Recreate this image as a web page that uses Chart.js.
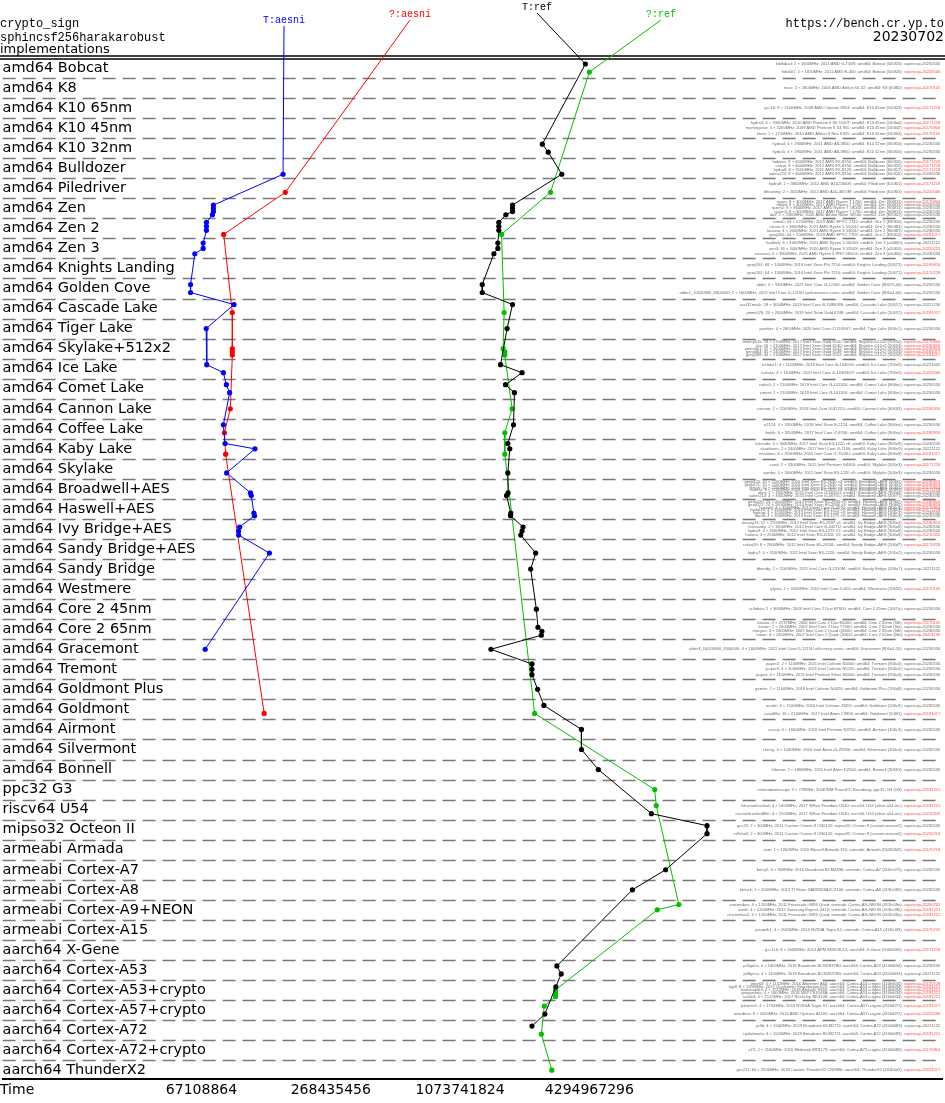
<!DOCTYPE html>
<html>
<head>
<meta charset="utf-8">
<script src="https://cdn.jsdelivr.net/npm/chart.js@4.4.1/dist/chart.umd.min.js"></script>
<style>
  html, body { margin: 0; padding: 0; background: #fff; }
  #wrap { width: 945px; height: 1103px; }
</style>
</head>
<body>
<div id="wrap"><canvas id="benchChart" width="945" height="1103"></canvas></div>
<script>
// ---- data ----
const categories = [
  "amd64 Bobcat", "amd64 K8", "amd64 K10 65nm", "amd64 K10 45nm", "amd64 K10 32nm",
  "amd64 Bulldozer", "amd64 Piledriver", "amd64 Zen", "amd64 Zen 2", "amd64 Zen 3",
  "amd64 Knights Landing", "amd64 Golden Cove", "amd64 Cascade Lake", "amd64 Tiger Lake",
  "amd64 Skylake+512x2", "amd64 Ice Lake", "amd64 Comet Lake", "amd64 Cannon Lake",
  "amd64 Coffee Lake", "amd64 Kaby Lake", "amd64 Skylake", "amd64 Broadwell+AES",
  "amd64 Haswell+AES", "amd64 Ivy Bridge+AES", "amd64 Sandy Bridge+AES", "amd64 Sandy Bridge",
  "amd64 Westmere", "amd64 Core 2 45nm", "amd64 Core 2 65nm", "amd64 Gracemont",
  "amd64 Tremont", "amd64 Goldmont Plus", "amd64 Goldmont", "amd64 Airmont",
  "amd64 Silvermont", "amd64 Bonnell", "ppc32 G3", "riscv64 U54", "mipso32 Octeon II",
  "armeabi Armada", "armeabi Cortex-A7", "armeabi Cortex-A8", "armeabi Cortex-A9+NEON",
  "armeabi Cortex-A15", "aarch64 X-Gene", "aarch64 Cortex-A53", "aarch64 Cortex-A53+crypto",
  "aarch64 Cortex-A57+crypto", "aarch64 Cortex-A72", "aarch64 Cortex-A72+crypto",
  "aarch64 ThunderX2"
];

// machines measured in each category (same order as categories)
const hosts = [
  ["bblhdcat", "hda601"], ["nucc"], ["gcc16"], ["hydra3", "morningstar", "khan"],
  ["hydra4", "hydra5"], ["hobbes", "calvin", "hydra6", "sabre224"], ["hydra8", "bltraining"],
  ["ryzen", "rabbit", "ryzen2", "ryzen3", "dali"], ["rome0", "renoir", "luciana", "genji206"],
  ["hadlock", "zen3", "cassava"], ["genji261", "genji161"], ["alder", "alder2_10020960_6600000"],
  ["ascl32mask", "pmmi076"], ["pamber"], ["manny016", "skx", "pmmi001", "genji464", "genji288"],
  ["icelake1", "icelake"], ["cubic0", "comet"], ["cannon"], ["e2124", "bottle"],
  ["lakeside", "skaelaxes", "rmslakes"], ["sand", "samba"],
  ["genji420", "genji421", "ferrari", "boilers", "ebro", "saber214"],
  ["genji220", "genji222", "haswell", "hydra10", "hiphop", "titan0"],
  ["manny13", "hanasaky", "hydra9", "hatana"], ["rokzo26", "hydra7"], ["bbandy"], ["glyma"],
  ["scifidata"], ["katana", "tristan", "morgan", "latour"], ["alder3_10020960_3300000"],
  ["jasper2", "jasper3", "jasper"], ["gemini"], ["ucube", "avoid8bi"], ["nucso"], ["cherry"],
  ["h4atom"], ["nintendowiiusage"], ["hifiveunleashed", "riscvunleashed800"],
  ["gcc23", "er8shell"], ["sam"], ["berry2"], ["bblack"], ["cmcnmbus", "arndt", "cmcnmbus2"],
  ["jetsontk1"], ["gcc116"], ["pi3aplus", "pi3bplus"],
  ["pine64", "tap8", "bananapi64", "gorgonzola", "rock64"], ["jetsontx1", "overdrive"],
  ["pi4b", "rpi4abmeta"], ["a72"], ["gcc211"]
];

const hostInfo = {
  bblhdcat: "2 × 1600MHz; 2011 AMD G-T56N; amd64; Bobcat (500f20)",
  hda601: "2 × 1650MHz; 2011 AMD E-450; amd64; Bobcat (500f20)",
  nucc: "2 × 2600MHz; 2006 AMD Athlon 64 X2; amd64; K8 (60f82)",
  gcc16: "8 × 2100MHz; 2008 AMD Opteron 8354; amd64; K10 65nm (100f23)",
  hydra3: "6 × 3300MHz; 2010 AMD Phenom II X6 1100T; amd64; K10 45nm (100fa0)",
  morningstar: "4 × 3200MHz; 2009 AMD Phenom II X4 955; amd64; K10 45nm (100f42)",
  khan: "1 × 1700MHz; 2010 AMD Athlon II Neo K325; amd64; K10 45nm (100f63)",
  hydra4: "4 × 2900MHz; 2011 AMD A8-3850; amd64; K10 32nm (300f10)",
  hydra5: "4 × 2900MHz; 2011 AMD A8-3850; amd64; K10 32nm (300f10)",
  hobbes: "8 × 4000MHz; 2012 AMD FX-8350; amd64; Bulldozer (600f20)",
  calvin: "8 × 4000MHz; 2012 AMD FX-8350; amd64; Bulldozer (600f20)",
  hydra6: "8 × 3100MHz; 2011 AMD FX-8120; amd64; Bulldozer (600f12)",
  sabre224: "8 × 4000MHz; 2012 AMD FX-8350; amd64; Bulldozer (600f20)",
  hydra8: "2 × 3800MHz; 2012 AMD A10-5800K; amd64; Piledriver (610f01)",
  bltraining: "2 × 2000MHz; 2012 AMD A10-4655M; amd64; Piledriver (610f01)",
  ryzen: "8 × 3000MHz; 2017 AMD Ryzen 7 1700; amd64; Zen (800f11)",
  rabbit: "8 × 3000MHz; 2017 AMD Ryzen 7 1700; amd64; Zen (800f11)",
  ryzen2: "8 × 3600MHz; 2017 AMD Ryzen 7 1800X; amd64; Zen (800f11)",
  ryzen3: "8 × 3000MHz; 2017 AMD Ryzen 7 1700; amd64; Zen (800f11)",
  dali: "2 × 2300MHz; 2020 AMD Athlon Silver 3050e; amd64; Zen (820f01)",
  rome0: "64 × 2250MHz; 2019 AMD EPYC 7742; amd64; Zen 2 (830f10)",
  renoir: "6 × 3800MHz; 2021 AMD Ryzen 5 5500U; amd64; Zen 2 (860f81)",
  luciana: "4 × 2600MHz; 2021 AMD Ryzen 3 5300U; amd64; Zen 2 (860f81)",
  genji206: "64 × 2000MHz; 2019 AMD EPYC 7702; amd64; Zen 2 (830f10)",
  hadlock: "6 × 4062MHz; 2021 AMD Ryzen 5 5600G; amd64; Zen 3 (a50f00)",
  zen3: "16 × 3400MHz; 2020 AMD Ryzen 9 5950X; amd64; Zen 3 (a20f10)",
  cassava: "6 × 3900MHz; 2021 AMD Ryzen 5 PRO 5650G; amd64; Zen 3 (a50f00)",
  genji261: "68 × 1400MHz; 2016 Intel Xeon Phi 7250; amd64; Knights Landing (50671)",
  genji161: "64 × 1300MHz; 2016 Intel Xeon Phi 7210; amd64; Knights Landing (50671)",
  alder: "4 × 3300MHz; 2022 Intel Core i3-12100; amd64; Golden Cove (90675-00)",
  alder2_10020960_6600000: "2 × 1600MHz; 2022 Intel Core i5-1215U performance cores; amd64; Golden Cove (906a4-00)",
  ascl32mask: "18 × 3000MHz; 2019 Intel Core i9-10980XE; amd64; Cascade Lake (50657)",
  pmmi076: "20 × 2500MHz; 2019 Intel Xeon Gold 6248; amd64; Cascade Lake (50657)",
  pamber: "4 × 2800MHz; 2020 Intel Core i7-1165G7; amd64; Tiger Lake (806c1)",
  manny016: "18 × 2700MHz; 2017 Intel Xeon Gold 6150; amd64; Skylake+512x2 (50654)",
  skx: "16 × 2100MHz; 2017 Intel Xeon Gold 6130; amd64; Skylake+512x2 (50654)",
  pmmi001: "32 × 2600MHz; 2017 Intel Xeon Gold 6142; amd64; Skylake+512x2 (50654)",
  genji464: "40 × 2400MHz; 2017 Intel Xeon Gold 6148; amd64; Skylake+512x2 (50654)",
  genji288: "44 × 2100MHz; 2017 Intel Xeon Gold 6152; amd64; Skylake+512x2 (50654)",
  icelake1: "4 × 1000MHz; 2019 Intel Core i5-1035G1; amd64; Ice Lake (706e5)",
  icelake: "4 × 1100MHz; 2020 Intel Core i5-1030NG7; amd64; Ice Lake (706e5)",
  cubic0: "2 × 2100MHz; 2019 Intel Core i3-10110U; amd64; Comet Lake (806ec)",
  comet: "2 × 2100MHz; 2019 Intel Core i3-10110U; amd64; Comet Lake (806ec)",
  cannon: "2 × 2200MHz; 2018 Intel Core i3-8121U; amd64; Cannon Lake (60663)",
  e2124: "4 × 3300MHz; 2018 Intel Xeon E-2124; amd64; Coffee Lake (906ea)",
  bottle: "6 × 3200MHz; 2017 Intel Core i7-8700; amd64; Coffee Lake (906ea)",
  lakeside: "4 × 3000MHz; 2017 Intel Xeon E3-1220 v6; amd64; Kaby Lake (906e9)",
  skaelaxes: "2 × 2400MHz; 2017 Intel Core i3-7100; amd64; Kaby Lake (906e9)",
  rmslakes: "4 × 3100MHz; 2016 Intel Core i7-7500U; amd64; Kaby Lake (806e9)",
  sand: "2 × 3300MHz; 2015 Intel Pentium G4400; amd64; Skylake (506e3)",
  samba: "4 × 3000MHz; 2015 Intel Xeon E3-1220 v5; amd64; Skylake (506e3)",
  genji420: "20 × 2200MHz; 2016 Intel Xeon E5-2630 v4; amd64; Broadwell+AES (406f1)",
  genji421: "20 × 2200MHz; 2016 Intel Xeon E5-2630 v4; amd64; Broadwell+AES (406f1)",
  ferrari: "10 × 2200MHz; 2016 Intel Xeon E5-2630 v4; amd64; Broadwell+AES (406f1)",
  boilers: "8 × 2100MHz; 2016 Intel Xeon E5-2620 v4; amd64; Broadwell+AES (406f1)",
  ebro: "2 × 1900MHz; 2015 Intel Core i3-5020U; amd64; Broadwell+AES (306d4)",
  saber214: "4 × 3300MHz; 2015 Intel Core i5-5675C; amd64; Broadwell+AES (40671)",
  genji220: "24 × 2600MHz; 2014 Intel Xeon E5-2690 v3; amd64; Haswell+AES (306f2)",
  genji222: "24 × 2600MHz; 2014 Intel Xeon E5-2690 v3; amd64; Haswell+AES (306f2)",
  haswell: "4 × 3200MHz; 2013 Intel Core i5-4570; amd64; Haswell+AES (306c3)",
  hydra10: "4 × 3500MHz; 2013 Intel Xeon E3-1275 v3; amd64; Haswell+AES (306c3)",
  hiphop: "4 × 3100MHz; 2013 Intel Xeon E3-1220 v3; amd64; Haswell+AES (306c3)",
  titan0: "4 × 3500MHz; 2013 Intel Xeon E3-1275 v3; amd64; Haswell+AES (306c3)",
  manny13: "12 × 2700MHz; 2013 Intel Xeon E5-2697 v2; amd64; Ivy Bridge+AES (306e4)",
  hanasaky: "2 × 1800MHz; 2012 Intel Core i5-3427U; amd64; Ivy Bridge+AES (306a9)",
  hydra9: "4 × 3500MHz; 2012 Intel Xeon E3-1275 V2; amd64; Ivy Bridge+AES (306a9)",
  hatana: "4 × 2500MHz; 2012 Intel Xeon E3-1265L V2; amd64; Ivy Bridge+AES (306a9)",
  rokzo26: "8 × 2600MHz; 2012 Intel Xeon E5-2650L; amd64; Sandy Bridge+AES (206d7)",
  hydra7: "4 × 3100MHz; 2011 Intel Xeon E3-1220; amd64; Sandy Bridge+AES (206a7)",
  bbandy: "2 × 2100MHz; 2011 Intel Core i3-2310M; amd64; Sandy Bridge (206a7)",
  glyma: "2 × 3200MHz; 2010 Intel Core i5-650; amd64; Westmere (20652)",
  scifidata: "2 × 3066MHz; 2009 Intel Core 2 Duo E7600; amd64; Core 2 45nm (1067a)",
  katana: "2 × 2137MHz; 2006 Intel Core 2 Duo E6400; amd64; Core 2 65nm (6f6)",
  tristan: "2 × 2000MHz; 2007 Intel Core 2 Duo T7300; amd64; Core 2 65nm (6fa)",
  morgan: "4 × 2400MHz; 2007 Intel Core 2 Quad Q6600; amd64; Core 2 65nm (6fb)",
  latour: "4 × 2400MHz; 2007 Intel Core 2 Quad Q6600; amd64; Core 2 65nm (6fb)",
  alder3_10020960_3300000: "4 × 1600MHz; 2022 Intel Core i5-1215U efficiency cores; amd64; Gracemont (906a4-20)",
  jasper2: "2 × 1100MHz; 2021 Intel Celeron N4500; amd64; Tremont (906c0)",
  jasper3: "4 × 2000MHz; 2021 Intel Celeron N5105; amd64; Tremont (906c0)",
  jasper: "4 × 1100MHz; 2021 Intel Pentium Silver N6000; amd64; Tremont (906c0)",
  gemini: "2 × 1100MHz; 2019 Intel Celeron N4020; amd64; Goldmont Plus (706a8)",
  ucube: "4 × 1500MHz; 2016 Intel Celeron J3455; amd64; Goldmont (506c9)",
  avoid8bi: "16 × 2100MHz; 2017 Intel Atom C3958; amd64; Goldmont (506f1)",
  nucso: "4 × 1600MHz; 2016 Intel Pentium N3700; amd64; Airmont (406c3)",
  cherry: "4 × 1440MHz; 2016 Intel Atom x5-Z8350; amd64; Silvermont (406c4)",
  h4atom: "2 × 1866MHz; 2011 Intel Atom D2500; amd64; Bonnell (30661)",
  nintendowiiusage: "3 × 729MHz; 2008 IBM PowerPC Broadway; ppc32; G3 (G3)",
  hifiveunleashed: "4 × 1400MHz; 2017 SiFive Freedom U540; riscv64; U54 (sifive,u54-mc)",
  riscvunleashed800: "4 × 1500MHz; 2017 SiFive Freedom U540; riscv64; U54 (sifive,u54-mc)",
  gcc23: "2 × 300MHz; 2011 Cavium Octeon II CN6120; mipso32; Octeon II (cavium-octeon2)",
  er8shell: "2 × 300MHz; 2011 Cavium Octeon II CN6120; mipso32; Octeon II (cavium-octeon2)",
  sam: "1 × 1200MHz; 2010 Marvell Armada 310; armeabi; Armada (562f5842)",
  berry2: "4 × 900MHz; 2016 Broadcom BCM2836; armeabi; Cortex-A7 (410fc075)",
  bblack: "1 × 1000MHz; 2012 TI Sitara XAM3359AZCZ100; armeabi; Cortex-A8 (413fc082)",
  cmcnmbus: "4 × 1200MHz; 2011 Freescale i.MX6 Quad; armeabi; Cortex-A9+NEON (412fc09a)",
  arndt: "4 × 1200MHz; 2012 Samsung Exynos 4412; armeabi; Cortex-A9+NEON (413fc090)",
  cmcnmbus2: "4 × 1200MHz; 2011 Freescale i.MX6 Quad; armeabi; Cortex-A9+NEON (412fc09a)",
  jetsontk1: "4 × 2065MHz; 2014 NVIDIA Tegra K1; armeabi; Cortex-A15 (413fc0f3)",
  gcc116: "8 × 1600MHz; 2014 APM 883208-X1; aarch64; X-Gene (500f0000)",
  pi3aplus: "4 × 1400MHz; 2018 Broadcom BCM2837B0; aarch64; Cortex-A53 (410fd034)",
  pi3bplus: "4 × 1400MHz; 2018 Broadcom BCM2837B0; aarch64; Cortex-A53 (410fd034)",
  pine64: "4 × 1152MHz; 2016 Allwinner A64; aarch64; Cortex-A53+crypto (410fd034)",
  tap8: "8 × 1200MHz; 2017 Qualcomm Snapdragon 625; aarch64; Cortex-A53+crypto (410fd034)",
  bananapi64: "4 × 1512MHz; 2016 Amlogic S905; aarch64; Cortex-A53+crypto (410fd034)",
  gorgonzola: "4 × 1600MHz; 2018 NXP LS1043A; aarch64; Cortex-A53+crypto (410fd034)",
  rock64: "4 × 1512MHz; 2017 Rockchip RK3328; aarch64; Cortex-A53+crypto (410fd034)",
  jetsontx1: "4 × 1734MHz; 2015 NVIDIA Tegra X1; aarch64; Cortex-A57+crypto (411fd071)",
  overdrive: "8 × 2000MHz; 2016 AMD Opteron A1100; aarch64; Cortex-A57+crypto (411fd072)",
  pi4b: "4 × 1500MHz; 2019 Broadcom BCM2711; aarch64; Cortex-A72 (410fd083)",
  rpi4abmeta: "4 × 1500MHz; 2019 Broadcom BCM2711; aarch64; Cortex-A72 (410fd083)",
  a72: "2 × 2100MHz; 2016 Mediatek MT8173; aarch64; Cortex-A72+crypto (410fd080)",
  gcc211: "64 × 2500MHz; 2018 Cavium ThunderX2 CN9980; aarch64; ThunderX2 (431f0af1)"
};

const hostVersion = {
  bblhdcat: "20230530", hda601: "20220506", nucc: "20170105", gcc16: "20171218",
  hydra3: "20171218", morningstar: "20170904", khan: "20170105", hydra4: "20230530",
  hydra5: "20230530", hobbes: "20171218", calvin: "20171218", hydra6: "20171218",
  sabre224: "20230530", hydra8: "20171218", bltraining: "20220506", ryzen: "20170904",
  rabbit: "20230530", ryzen2: "20230530", ryzen3: "20230530", dali: "20230530",
  rome0: "20230530", renoir: "20230530", luciana: "20230530", genji206: "20191017",
  hadlock: "20221122", zen3: "20220213", cassava: "20230530", genji261: "20190816",
  genji161: "20170228", alder: "20230530", alder2_10020960_6600000: "20230530",
  ascl32mask: "20221230", pmmi076: "20191017", pamber: "20230530", manny016: "20170904",
  skx: "20190816", pmmi001: "20190816", genji464: "20191017", genji288: "20191017",
  icelake1: "20221005", icelake: "20220506", cubic0: "20230530", comet: "20230530",
  cannon: "20190910", e2124: "20230530", bottle: "20190910", lakeside: "20230530",
  skaelaxes: "20221122", rmslakes: "20191017", sand: "20171218", samba: "20230530",
  genji420: "20190816", genji421: "20190816", ferrari: "20170904", boilers: "20171218",
  ebro: "20230530", saber214: "20230530", genji220: "20190816", genji222: "20190816",
  haswell: "20170904", hydra10: "20171218", hiphop: "20230530", titan0: "20230530",
  manny13: "20190816", hanasaky: "20230530", hydra9: "20230530", hatana: "20210326",
  rokzo26: "20170228", hydra7: "20230530", bbandy: "20221122", glyma: "20170105",
  scifidata: "20230530", katana: "20170105", tristan: "20230530", morgan: "20230530",
  latour: "20201130", alder3_10020960_3300000: "20230530", jasper2: "20230530",
  jasper3: "20230530", jasper: "20230530", gemini: "20230530", ucube: "20230530",
  avoid8bi: "20191017", nucso: "20230530", cherry: "20230530", h4atom: "20230530",
  nintendowiiusage: "20191221", hifiveunleashed: "20191221", riscvunleashed800: "20210326",
  gcc23: "20230530", er8shell: "20220213", sam: "20170718", berry2: "20230530",
  bblack: "20230530", cmcnmbus: "20200702", arndt: "20191221", cmcnmbus2: "20191221",
  jetsontk1: "20170726", gcc116: "20171218", pi3aplus: "20230530", pi3bplus: "20221122",
  pine64: "20170728", tap8: "20191221", bananapi64: "20191221", gorgonzola: "20191221",
  rock64: "20191221", jetsontx1: "20191017", overdrive: "20220506", pi4b: "20221122",
  rpi4abmeta: "20191221", a72: "20170904", gcc211: "20191017"
};

// cycles per machine for each series
const tAesni = {
  sabre224: 1.609e8, rabbit: 7.627e7, ryzen2: 7.627e7, ryzen3: 7.627e7, dali: 7.546e7,
  rome0: 7.078e7, renoir: 7.078e7, luciana: 7.078e7, hadlock: 6.834e7, zen3: 6.834e7,
  cassava: 6.248e7, alder: 5.968e7, alder2_10020960_6600000: 5.968e7, ascl32mask: 9.511e7,
  pamber: 7.056e7, icelake1: 7.101e7, icelake: 8.485e7, cubic0: 8.761e7, comet: 9.075e7,
  e2124: 8.485e7, lakeside: 8.640e7, skaelaxes: 1.190e8, samba: 8.789e7, ebro: 1.135e8,
  saber214: 1.144e8, hiphop: 1.177e8, titan0: 1.185e8, hanasaky: 1.010e8, hydra9: 9.989e7,
  hatana: 9.989e7, hydra7: 1.390e8, alder3_10020960_3300000: 6.981e7
};
const qAesni = {
  bltraining: 1.649e8, genji206: 8.513e7, pmmi076: 9.340e7, pmmi001: 9.340e7,
  genji464: 9.340e7, genji288: 9.340e7, cannon: 9.143e7, bottle: 8.576e7,
  rmslakes: 8.696e7, avoid8bi: 1.314e8
};
const tRef = {
  bblhdcat: 4.116e9, hydra4: 2.594e9, hydra5: 2.765e9, sabre224: 3.196e9, rabbit: 1.884e9,
  ryzen2: 1.884e9, ryzen3: 1.884e9, dali: 1.754e9, rome0: 1.627e9, renoir: 1.627e9,
  luciana: 1.627e9, hadlock: 1.610e9, zen3: 1.610e9, cassava: 1.543e9, alder: 1.362e9,
  alder2_10020960_6600000: 1.362e9, ascl32mask: 1.884e9, pamber: 1.778e9, icelake1: 1.657e9,
  icelake: 2.087e9, cubic0: 1.748e9, comet: 1.924e9, e2124: 1.904e9, lakeside: 1.792e9,
  skaelaxes: 1.830e9, samba: 1.792e9, ebro: 1.797e9, saber214: 1.767e9, hiphop: 1.850e9,
  titan0: 1.844e9, hanasaky: 2.109e9, hydra9: 2.087e9, hatana: 2.058e9, hydra7: 2.415e9,
  bbandy: 2.290e9, scifidata: 2.433e9, tristan: 2.475e9, morgan: 2.582e9, latour: 2.566e9,
  alder3_10020960_3300000: 1.495e9, jasper2: 2.321e9, jasper3: 2.321e9, jasper: 2.321e9,
  gemini: 2.467e9, ucube: 2.638e9, nucso: 3.945e9, cherry: 3.945e9, h4atom: 4.729e9,
  riscvunleashed800: 8.345e9, gcc23: 1.517e10, er8shell: 1.517e10, berry2: 9.731e9,
  bblack: 6.815e9, pi3aplus: 3.031e9, pi3bplus: 3.176e9, tap8: 2.998e9, overdrive: 2.666e9,
  pi4b: 2.321e9
};
const qRef = {
  hda601: 4.296e9, bltraining: 2.833e9, genji206: 1.675e9, pmmi076: 1.722e9, pmmi001: 1.704e9,
  genji464: 1.735e9, genji288: 1.735e9, cannon: 1.876e9, bottle: 1.735e9, rmslakes: 1.735e9,
  avoid8bi: 2.389e9, nintendowiiusage: 8.654e9, hifiveunleashed: 8.803e9, cmcnmbus: 1.121e10,
  arndt: 8.898e9, bananapi64: 2.989e9, gorgonzola: 2.989e9, rock64: 2.989e9,
  jetsontx1: 2.649e9, rpi4abmeta: 2.566e9, gcc211: 2.872e9
};

const seriesNames = ["T:aesni", "?:aesni", "T:ref", "?:ref"];
const seriesColors = ["#0000ff", "#ff0000", "#000000", "#00c000"];
const xTicks = [67108864, 268435456, 1073741824, 4294967296];

const titleLeft = ["crypto_sign", "sphincsf256harakarobust", "implementations"];
const titleRight = ["https://bench.cr.yp.to", "20230702"];

// ---- layout helpers ----
// machine rows are spread inside their category band
const machineRows = [];
hosts.forEach(function (list, cat) {
  const n = list.length;
  list.forEach(function (h, j) {
    machineRows.push({ host: h, pos: cat + (j - (n - 1) / 2) * 0.8 / n });
  });
});

function seriesPoints(values) {
  return machineRows
    .filter(function (m) { return values[m.host] != null; })
    .map(function (m) { return { x: values[m.host], y: m.pos }; });
}

const seriesValues = [tAesni, qAesni, tRef, qRef];
const datasets = seriesValues.map(function (vals, i) {
  return {
    label: seriesNames[i],
    data: seriesPoints(vals),
    showLine: true,
    borderColor: seriesColors[i],
    backgroundColor: seriesColors[i],
    borderWidth: 1,
    pointRadius: 2.6,
    pointBorderWidth: 0,
    pointHoverRadius: 2.6
  };
});

// one doubling = 65px, 2^26 sits at x = 200
const xMin = xTicks[0] / Math.pow(2, 200 / 65);
const xMax = xTicks[0] * Math.pow(2, 745 / 65);

const decorations = {
  id: "decorations",
  beforeDatasetsDraw: function (chart) {
    const ctx = chart.ctx;
    const area = chart.chartArea;
    const y = chart.scales.y;
    ctx.save();
    // dashed separators between categories
    ctx.strokeStyle = "#7a7a7a";
    ctx.lineWidth = 1.3;
    ctx.setLineDash([13, 7]);
    for (let i = 0; i < categories.length - 1; i++) {
      const py = Math.round(y.getPixelForValue(i + 0.5)) + 0.5;
      ctx.beginPath();
      ctx.moveTo(area.left, py);
      ctx.lineTo(area.right, py);
      ctx.stroke();
    }
    ctx.setLineDash([]);
    // machine descriptions
    ctx.font = '4.1px "Liberation Sans"';
    ctx.textAlign = "right";
    ctx.textBaseline = "middle";
    machineRows.forEach(function (m) {
      const py = y.getPixelForValue(m.pos);
      const ver = "supercop-" + hostVersion[m.host];
      const right = area.right - 2;
      const vw = ctx.measureText(ver).width;
      ctx.fillStyle = hostVersion[m.host] < "20221000" ? "#ff4a4a" : "#6a6a6a";
      ctx.fillText(ver, right, py);
      ctx.fillStyle = "#6a6a6a";
      ctx.fillText(m.host + "; " + hostInfo[m.host] + "; ", right - vw, py);
    });
    // frame lines at the top
    ctx.strokeStyle = "#000";
    ctx.lineWidth = 1.5;
    [area.top - 3, area.top].forEach(function (py) {
      ctx.beginPath();
      ctx.moveTo(0, py);
      ctx.lineTo(chart.width, py);
      ctx.stroke();
    });
    ctx.restore();
  },
  afterDatasetsDraw: function (chart) {
    const ctx = chart.ctx;
    const area = chart.chartArea;
    ctx.save();
    // series labels in the header with leader lines to their first point
    const labelPos = [[284, 20], [410, 14], [537, 7], [661, 14]];
    ctx.font = '10px "Liberation Mono"';
    ctx.textAlign = "center";
    ctx.textBaseline = "middle";
    seriesNames.forEach(function (name, i) {
      const first = chart.getDatasetMeta(i).data[0];
      ctx.fillStyle = seriesColors[i];
      ctx.fillText(name, labelPos[i][0], labelPos[i][1]);
      ctx.strokeStyle = seriesColors[i];
      ctx.lineWidth = 1;
      ctx.beginPath();
      ctx.moveTo(labelPos[i][0], labelPos[i][1] + 6);
      ctx.lineTo(first.x, first.y);
      ctx.stroke();
    });
    // title block
    ctx.fillStyle = "#000";
    ctx.textAlign = "left";
    ctx.font = '12px "Liberation Mono"';
    ctx.fillText(titleLeft[0], 0, 24);
    ctx.fillText(titleLeft[1], 0, 37.5);
    ctx.font = '13px "DejaVu Sans"';
    ctx.fillText(titleLeft[2], 0, 50);
    ctx.textAlign = "right";
    ctx.font = '12px "Liberation Mono"';
    ctx.fillText(titleRight[0], chart.width - 1, 24);
    ctx.font = '14px "DejaVu Sans"';
    ctx.fillText(titleRight[1], chart.width - 1, 37.5);
    // axis name
    ctx.textAlign = "left";
    ctx.font = '14px "DejaVu Sans"';
    ctx.fillText("Time", 0, area.bottom + 11);
    ctx.restore();
  }
};

const canvas = document.getElementById("benchChart");
new Chart(canvas.getContext("2d"), {
  type: "scatter",
  data: { datasets: datasets },
  options: {
    responsive: false,
    animation: false,
    devicePixelRatio: 1,
    layout: { padding: { top: 59, bottom: 1, left: 0, right: 0 } },
    plugins: { legend: { display: false }, tooltip: { enabled: false } },
    scales: {
      x: {
        type: "logarithmic",
        min: xMin,
        max: xMax,
        afterBuildTicks: function (s) { s.ticks = xTicks.map(function (v) { return { value: v }; }); },
        ticks: {
          autoSkip: false,
          maxRotation: 0,
          padding: 3,
          color: "#000",
          font: { family: "DejaVu Sans", size: 14 },
          callback: function (v) { return String(v); }
        },
        grid: { display: false, drawTicks: false },
        border: { display: true, color: "#000", width: 2 }
      },
      y: {
        type: "linear",
        reverse: true,
        min: -0.45,
        max: categories.length - 0.55,
        afterBuildTicks: function (s) { s.ticks = categories.map(function (c, i) { return { value: i }; }); },
        ticks: {
          mirror: true,
          padding: 0,
          autoSkip: false,
          color: "#000",
          font: { family: "DejaVu Sans", size: 14.5 },
          callback: function (v) { return categories[v]; }
        },
        grid: { display: false, drawTicks: false },
        border: { display: false }
      }
    }
  },
  plugins: [decorations]
});
</script>
</body>
</html>
